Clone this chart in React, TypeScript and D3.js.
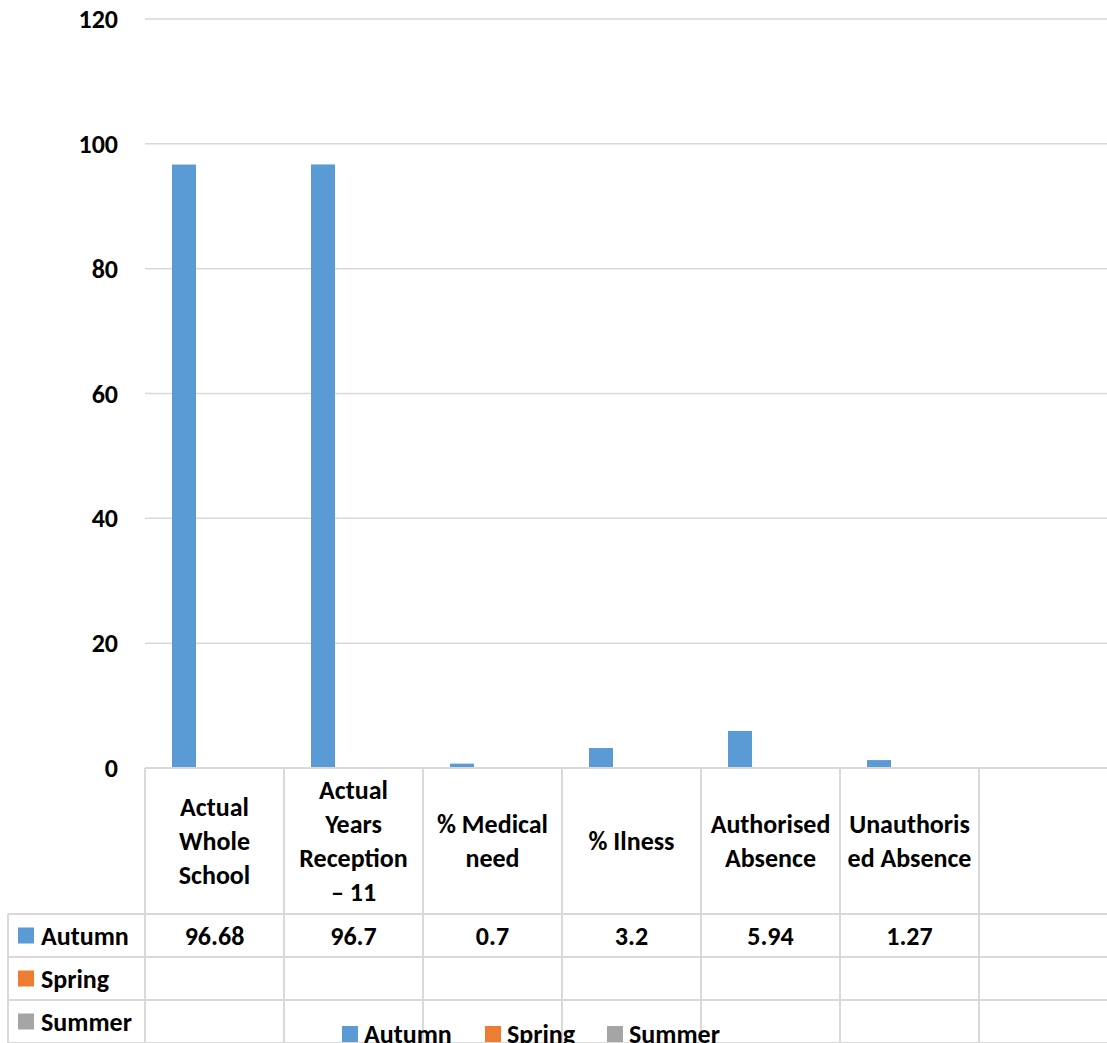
import React from "react";
import * as d3 from "d3";

const categories: string[][] = [
  ["Actual", "Whole", "School"],
  ["Actual", "Years", "Reception", "\u2013 11"],
  ["% Medical", "need"],
  ["% Ilness"],
  ["Authorised", "Absence"],
  ["Unauthoris", "ed Absence"],
  [],
];
const seriesNames = ["Autumn", "Spring", "Summer"];
const autumn: (number | null)[] = [96.68, 96.7, 0.7, 3.2, 5.94, 1.27, null];
const spring: (number | null)[] = [null, null, null, null, null, null, null];
const summer: (number | null)[] = [null, null, null, null, null, null, null];
const seriesValues = [autumn, spring, summer];
const autumnLabels = ["96.68", "96.7", "0.7", "3.2", "5.94", "1.27", ""];
const yTicks = [0, 20, 40, 60, 80, 100, 120];
const colors = ["#5B9BD5", "#ED7D31", "#A5A5A5"];

const W = 1107;
const H = 1043;
const FONT = "Carlito, Calibri, Lato, sans-serif";
const GRID = "#d9d9d9";

export default function App() {
  const left = 145;
  const colW = 139;
  const catIdx = categories.map((_, i) => String(i));
  const x0 = d3
    .scaleBand<string>()
    .domain(catIdx)
    .range([left, left + colW * categories.length])
    .paddingInner(0)
    .paddingOuter(0);
  const x1 = d3
    .scaleBand<string>()
    .domain(seriesNames)
    .range([27, 112])
    .paddingInner(0.213)
    .paddingOuter(0);
  const y = d3.scaleLinear().domain([0, 120]).range([768, 19]);

  const axisY = y(0);
  const headerBottom = 914;
  const rowH = 43;
  const tableLeft = 8;
  const right = left + colW * categories.length;
  const lineH = 34;
  const headerMid = (axisY + headerBottom) / 2;

  return (
    <svg
      width={W}
      height={H}
      style={{ position: "absolute", left: 0, top: 0, display: "block" }}
      fontFamily={FONT}
      fontWeight="bold"
      fontSize={26}
    >
      <rect x={0} y={0} width={W} height={H} fill="#fff" />
      {yTicks.map((t) => (
        <line
          key={"g" + t}
          x1={left}
          x2={right}
          y1={y(t)}
          y2={y(t)}
          stroke={GRID}
          strokeWidth={1.5}
        />
      ))}
      {yTicks.map((t) => (
        <text
          key={"t" + t}
          x={118}
          y={y(t)}
          textAnchor="end"
          dominantBaseline="central"
          fill="#000"
        >
          {t}
        </text>
      ))}
      {seriesValues.map((vals, si) =>
        vals.map((v, ci) =>
          v == null ? null : (
            <rect
              key={`b${si}-${ci}`}
              x={(x0(String(ci)) as number) + (x1(seriesNames[si]) as number)}
              width={x1.bandwidth()}
              y={y(v)}
              height={y(0) - y(v)}
              fill={colors[si]}
            />
          )
        )
      )}
      <line x1={left} x2={right} y1={axisY} y2={axisY} stroke={GRID} strokeWidth={2} />
      {[0, 1, 2, 3].map((r) => (
        <line
          key={"h" + r}
          x1={tableLeft}
          x2={right}
          y1={headerBottom + r * rowH}
          y2={headerBottom + r * rowH}
          stroke={GRID}
          strokeWidth={2}
        />
      ))}
      <line x1={tableLeft} x2={tableLeft} y1={headerBottom} y2={H} stroke={GRID} strokeWidth={2} />
      {catIdx.concat(["end"]).map((c, i) => {
        const xx = left + i * colW;
        return (
          <line key={"v" + c} x1={xx} x2={xx} y1={axisY} y2={H} stroke={GRID} strokeWidth={2} />
        );
      })}
      {categories.map((lines, ci) => {
        const cx = (x0(String(ci)) as number) + x0.bandwidth() / 2;
        const start = headerMid - ((lines.length - 1) * lineH) / 2;
        return lines.map((ln, li) => (
          <text
            key={`c${ci}-${li}`}
            x={cx}
            y={start + li * lineH}
            textAnchor="middle"
            dominantBaseline="central"
            fill="#000"
          >
            {ln}
          </text>
        ));
      })}
      {autumnLabels.map((lab, ci) => (
        <text
          key={"d" + ci}
          x={(x0(String(ci)) as number) + x0.bandwidth() / 2}
          y={headerBottom + rowH / 2}
          textAnchor="middle"
          dominantBaseline="central"
          fill="#000"
        >
          {lab}
        </text>
      ))}
      {seriesNames.map((s, si) => {
        const cy = headerBottom + si * rowH + rowH / 2;
        return (
          <g key={"rk" + s}>
            <rect x={18} y={cy - 8} width={16} height={16} fill={colors[si]} />
            <text x={41} y={cy} dominantBaseline="central" fill="#000">
              {s}
            </text>
          </g>
        );
      })}
      {seriesNames.map((s, si) => {
        const lx = [342, 485, 607][si];
        return (
          <g key={"lg" + s}>
            <rect x={lx} y={1026} width={16} height={16} fill={colors[si]} />
            <text x={lx + 22} y={1043} fill="#000">
              {s}
            </text>
          </g>
        );
      })}
    </svg>
  );
}
